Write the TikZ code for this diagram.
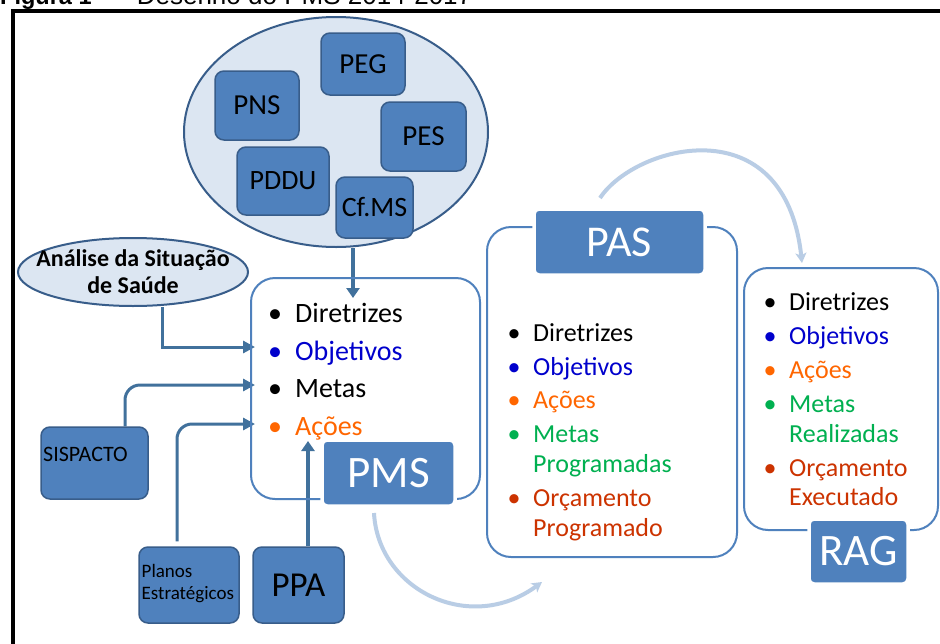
\documentclass[tikz,border=0pt]{standalone}
\usepackage{fontspec}
\setmainfont{Carlito}
\newfontfamily\arialfont{Liberation Sans}
\usetikzlibrary{arrows.meta,shapes.geometric}
\definecolor{fillblue}{RGB}{79,129,189}
\definecolor{darkedge}{RGB}{56,93,138}
\definecolor{cloudfill}{RGB}{220,230,242}
\definecolor{arrowblue}{RGB}{65,113,156}
\definecolor{boxedge}{RGB}{79,129,189}
\definecolor{lightarc}{RGB}{185,205,229}
\definecolor{objblue}{RGB}{0,0,204}
\definecolor{acorange}{RGB}{255,102,0}
\definecolor{metgreen}{RGB}{0,176,80}
\definecolor{orcred}{RGB}{204,51,0}
\newcommand{\fsz}[1]{\fontsize{#1}{#1}\selectfont}
\pgfdeclarelayer{background}
\pgfsetlayers{background,main}
\begin{document}
\begin{tikzpicture}[x=1pt,y=-1pt,
  smallbox/.style={fill=fillblue, draw=darkedge, line width=1.5pt, rounded corners=9pt, inner sep=0pt, align=center},
  listbox/.style={draw=boxedge, line width=2pt, rounded corners=24pt, inner sep=0pt},
  labelbox/.style={fill=fillblue, draw=white, line width=3.5pt, rounded corners=5pt, inner sep=0pt, text=white},
  cloudshape/.style={ellipse, draw=darkedge, fill=cloudfill, line width=2pt, inner sep=0pt},
  darrow/.style={draw=arrowblue, line width=3pt, -{Triangle[length=12pt,width=12pt]}},
  thickarrow/.style={draw=arrowblue, line width=4pt, -{Triangle[length=10pt,width=13pt]}},
  lightarrow/.style={draw=lightarc, line width=4pt, -{Stealth[length=10pt,width=11pt,inset=2.5pt]}},
  bitem/.style={anchor=base west, inner sep=0pt},
  pmsitem/.style={bitem, font=\fsz{28}},
  pasitem/.style={bitem, font=\fsz{26}},
]
\useasboundingbox (0,0) rectangle (940,643);

% title (cut by the page edge) and frame
\node[bitem, font=\arialfont\fsz{23.5}\bfseries] (titleA) at (0,4.5) {Figura 1};
\node[bitem, font=\arialfont\fsz{26}] (titleB) at (115,4.5) {– Desenho do PMS 2014-2017};
\draw[line width=4pt] (990,10.5) -- (12.5,10.5) -- (12.5,700);

% cloud of plans
\node[cloudshape, minimum width=304pt, minimum height=230pt] (cloud) at (336,132) {};
\node[smallbox, minimum width=84pt, minimum height=62pt, font=\fsz{29}] (peg) at (363,64) {PEG};
\node[smallbox, minimum width=84pt, minimum height=69pt, font=\fsz{29}] (pns) at (257,105.5) {PNS};
\node[smallbox, minimum width=85pt, minimum height=69pt, font=\fsz{29}] (pes) at (423.5,136.5) {PES};
\node[smallbox, minimum width=92pt, minimum height=68pt, font=\fsz{28}] (pddu) at (283,181) {PDDU};
\node[smallbox, minimum width=77pt, minimum height=61pt, font=\fsz{28}] (cfms) at (374.5,207.5) {Cf.MS};

% Analise
\node[cloudshape, minimum width=230pt, minimum height=68pt] (analise) at (133,272) {};
\node[font=\fontsize{24}{27}\selectfont\bfseries, align=center, inner sep=0pt] (analisetxt) at (133,272) {Análise da Situação\\de Saúde};

% PMS box
\node[listbox, minimum width=229pt, minimum height=221pt] (pmsbox) at (365.5,388.5) {};
\node[pmsitem, text=black] (pms1) at (268,322) {\makebox[27pt][l]{•}Diretrizes};
\node[pmsitem, text=objblue] (pms2) at (268,360) {\makebox[27pt][l]{•}Objetivos};
\node[pmsitem, text=black] (pms3) at (268,397) {\makebox[27pt][l]{•}Metas};
\node[pmsitem, text=acorange] (pms4) at (268,435) {\makebox[27pt][l]{•}Ações};
\node[labelbox, minimum width=133pt, minimum height=66pt, font=\fsz{45}] (pmslabel) at (388.5,473) {PMS};

% side sources
\node[smallbox, minimum width=107pt, minimum height=72pt] (sispacto) at (94.5,463) {};
\node[bitem, font=\fsz{22}] (sispactotxt) at (43,461) {SISPACTO};
\node[smallbox, minimum width=100pt, minimum height=76pt] (planos) at (189,585) {};
\node[bitem, font=\fsz{19}] (planostxt1) at (141.5,577) {Planos};
\node[bitem, font=\fsz{19}] (planostxt2) at (141.5,599) {Estratégicos};
\node[smallbox, minimum width=91pt, minimum height=76pt, font=\fsz{35}] (ppa) at (298.5,585) {PPA};

% PAS box
\node[listbox, minimum width=250pt, minimum height=330pt] (pasbox) at (612,392) {};
\node[labelbox, minimum width=171pt, minimum height=66pt, font=\fsz{44}] (paslabel) at (619.5,242) {PAS};
\node[pasitem, text=black] (pas1) at (507.5,341) {\makebox[25.5pt][l]{•}Diretrizes};
\node[pasitem, text=objblue] (pas2) at (507.5,375) {\makebox[25.5pt][l]{•}Objetivos};
\node[pasitem, text=acorange] (pas3) at (507.5,408) {\makebox[25.5pt][l]{•}Ações};
\node[pasitem, text=metgreen] (pas4) at (507.5,442) {\makebox[25.5pt][l]{•}Metas};
\node[pasitem, text=metgreen] (pas4b) at (533,472) {Programadas};
\node[pasitem, text=orcred] (pas5) at (507.5,506) {\makebox[25.5pt][l]{•}Orçamento};
\node[pasitem, text=orcred] (pas5b) at (533,536) {Programado};

% RAG box
\node[listbox, minimum width=194pt, minimum height=262pt] (ragbox) at (841,399) {};
\node[pasitem, text=black] (rag1) at (763.5,310) {\makebox[25.5pt][l]{•}Diretrizes};
\node[pasitem, text=objblue] (rag2) at (763.5,344) {\makebox[25.5pt][l]{•}Objetivos};
\node[pasitem, text=acorange] (rag3) at (763.5,378) {\makebox[25.5pt][l]{•}Ações};
\node[pasitem, text=metgreen] (rag4) at (763.5,412) {\makebox[25.5pt][l]{•}Metas};
\node[pasitem, text=metgreen] (rag4b) at (789,442) {Realizadas};
\node[pasitem, text=orcred] (rag5) at (763.5,476) {\makebox[25.5pt][l]{•}Orçamento};
\node[pasitem, text=orcred] (rag5b) at (789,505) {Executado};
\node[labelbox, minimum width=99pt, minimum height=65pt, font=\fsz{45}] (raglabel) at (858.5,551.5) {RAG};

% connector end points
\coordinate (a1end) at (353,298);
\coordinate (a2end) at (255,347);
\coordinate (a3end) at (255,385);
\coordinate (a4end) at (255,424);
\coordinate (a5end) at (308,441);
\coordinate (c1s) at (374,513);
\coordinate (c1e) at (542,582);
\coordinate (c2s) at (600,198);
\coordinate (c2e) at (802,263);

\begin{pgfonlayer}{background}
\fill[white] (0,0) rectangle (940,643);
\draw[thickarrow] (cloud.south -| a1end) -- (a1end);
\draw[darrow] ([xshift=29pt]analise.south) |- (a2end);
\draw[darrow, rounded corners=15pt] ([xshift=30.5pt]sispacto.north) |- (a3end);
\draw[darrow, rounded corners=15pt] ([xshift=-12pt,yshift=5pt]planos.north) |- (a4end);
\draw[thickarrow] (ppa.north -| a5end) -- (a5end);
\draw[lightarrow] (c1s) .. controls (378,590) and (470,635) .. (c1e);
\draw[lightarrow] (c2s) .. controls (635,145) and (785,105) .. (c2e);
\end{pgfonlayer}
\end{tikzpicture}
\end{document}
